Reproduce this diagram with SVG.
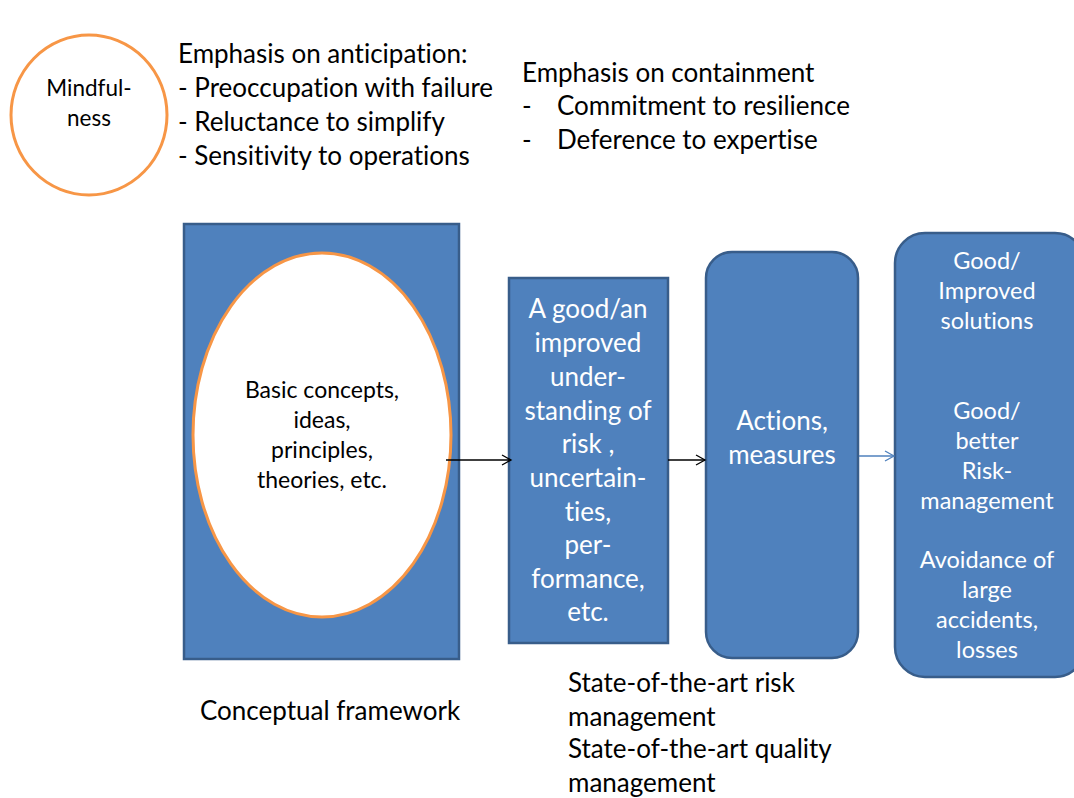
<svg xmlns="http://www.w3.org/2000/svg" width="1074" height="798" viewBox="0 0 1074 798">
  <style>
    text { font-family: Lato, "Open Sans", "Liberation Sans", sans-serif; font-variant-ligatures: none; font-feature-settings: "liga" 0, "clig" 0; }
    .dark { fill: #000000; }
    .light { fill: #ffffff; text-anchor: middle; }
    .ring { fill: #ffffff; stroke: #F79646; stroke-width: 3; }
    .box { fill: #4F81BD; stroke: #385D8A; stroke-width: 2.5; }
    .link { fill: none; stroke: #000000; stroke-width: 1.3; }
    .link-blue { fill: none; stroke: #4F81BD; stroke-width: 1.3; }
  </style>
  <defs>
    <marker id="openArrow" markerWidth="12" markerHeight="12" refX="10" refY="6" orient="auto" markerUnits="userSpaceOnUse">
      <path d="M1,1 L10,6 L1,11" fill="none" stroke="#000000" stroke-width="1.3"/>
    </marker>
    <marker id="openArrowBlue" markerWidth="12" markerHeight="12" refX="10" refY="6" orient="auto" markerUnits="userSpaceOnUse">
      <path d="M1,1 L10,6 L1,11" fill="none" stroke="#4F81BD" stroke-width="1.3"/>
    </marker>
  </defs>

  <rect width="1074" height="798" fill="#ffffff"/>

  <!-- Mindfulness -->
  <g id="mindfulness">
    <ellipse class="ring" cx="89" cy="115" rx="78" ry="80"/>
    <text class="dark" x="89" y="96" font-size="22.5" text-anchor="middle">Mindful-</text>
    <text class="dark" x="89" y="126" font-size="22.5" text-anchor="middle">ness</text>
  </g>

  <!-- Anticipation list -->
  <g id="anticipation" class="dark" font-size="26">
    <text x="178" y="63">Emphasis on anticipation:</text>
    <text x="178" y="97">- Preoccupation with failure</text>
    <text x="178" y="131">- Reluctance to simplify</text>
    <text x="178" y="165">- Sensitivity to operations</text>
  </g>

  <!-- Containment list -->
  <g id="containment" class="dark" font-size="26">
    <text x="522" y="82">Emphasis on containment</text>
    <text x="522" y="115">-</text>
    <text x="557" y="115">Commitment to resilience</text>
    <text x="522" y="149">-</text>
    <text x="557" y="149">Deference to expertise</text>
  </g>

  <!-- Conceptual framework block -->
  <g id="framework">
    <rect class="box" x="184" y="224" width="275" height="435"/>
    <ellipse class="ring" cx="322" cy="435" rx="129" ry="182"/>
    <g class="dark" font-size="23" text-anchor="middle">
      <text x="322" y="398">Basic concepts,</text>
      <text x="322" y="428">ideas,</text>
      <text x="322" y="458">principles,</text>
      <text x="322" y="488">theories, etc.</text>
    </g>
  </g>

  <!-- Understanding block -->
  <g id="understanding">
    <rect class="box" x="509" y="278" width="159" height="365"/>
    <g class="light" font-size="26">
      <text x="588" y="318">A good/an</text>
      <text x="588" y="352">improved</text>
      <text x="588" y="386">under-</text>
      <text x="588" y="420">standing of</text>
      <text x="588" y="453">risk ,</text>
      <text x="588" y="487">uncertain-</text>
      <text x="588" y="521">ties,</text>
      <text x="588" y="554">per-</text>
      <text x="588" y="588">formance,</text>
      <text x="588" y="621">etc.</text>
    </g>
  </g>

  <!-- Actions block -->
  <g id="actions">
    <rect class="box" x="706" y="252" width="152" height="406" rx="26" ry="26"/>
    <g class="light" font-size="26">
      <text x="782" y="430">Actions,</text>
      <text x="782" y="464">measures</text>
    </g>
  </g>

  <!-- Outcomes block -->
  <g id="outcomes">
    <rect class="box" x="895" y="233" width="190" height="444" rx="30" ry="30"/>
    <g class="light" font-size="23.5">
      <text x="987" y="269">Good/</text>
      <text x="987" y="299">Improved</text>
      <text x="987" y="329">solutions</text>
      <text x="987" y="419">Good/</text>
      <text x="987" y="449">better</text>
      <text x="987" y="479">Risk-</text>
      <text x="987" y="509">management</text>
      <text x="987" y="568">Avoidance of</text>
      <text x="987" y="598">large</text>
      <text x="987" y="628">accidents,</text>
      <text x="987" y="658">losses</text>
    </g>
  </g>

  <!-- Connectors -->
  <g id="connectors">
    <line class="link" x1="446" y1="460" x2="511" y2="460" marker-end="url(#openArrow)"/>
    <line class="link" x1="668" y1="460" x2="705" y2="460" marker-end="url(#openArrow)"/>
    <line class="link-blue" x1="859" y1="456" x2="894" y2="456" marker-end="url(#openArrowBlue)"/>
  </g>

  <!-- Captions -->
  <g id="captions" class="dark" font-size="26">
    <text x="200" y="720">Conceptual framework</text>
    <text x="568" y="692">State-of-the-art risk</text>
    <text x="568" y="726">management</text>
    <text x="568" y="758">State-of-the-art quality</text>
    <text x="568" y="792">management</text>
  </g>
</svg>
